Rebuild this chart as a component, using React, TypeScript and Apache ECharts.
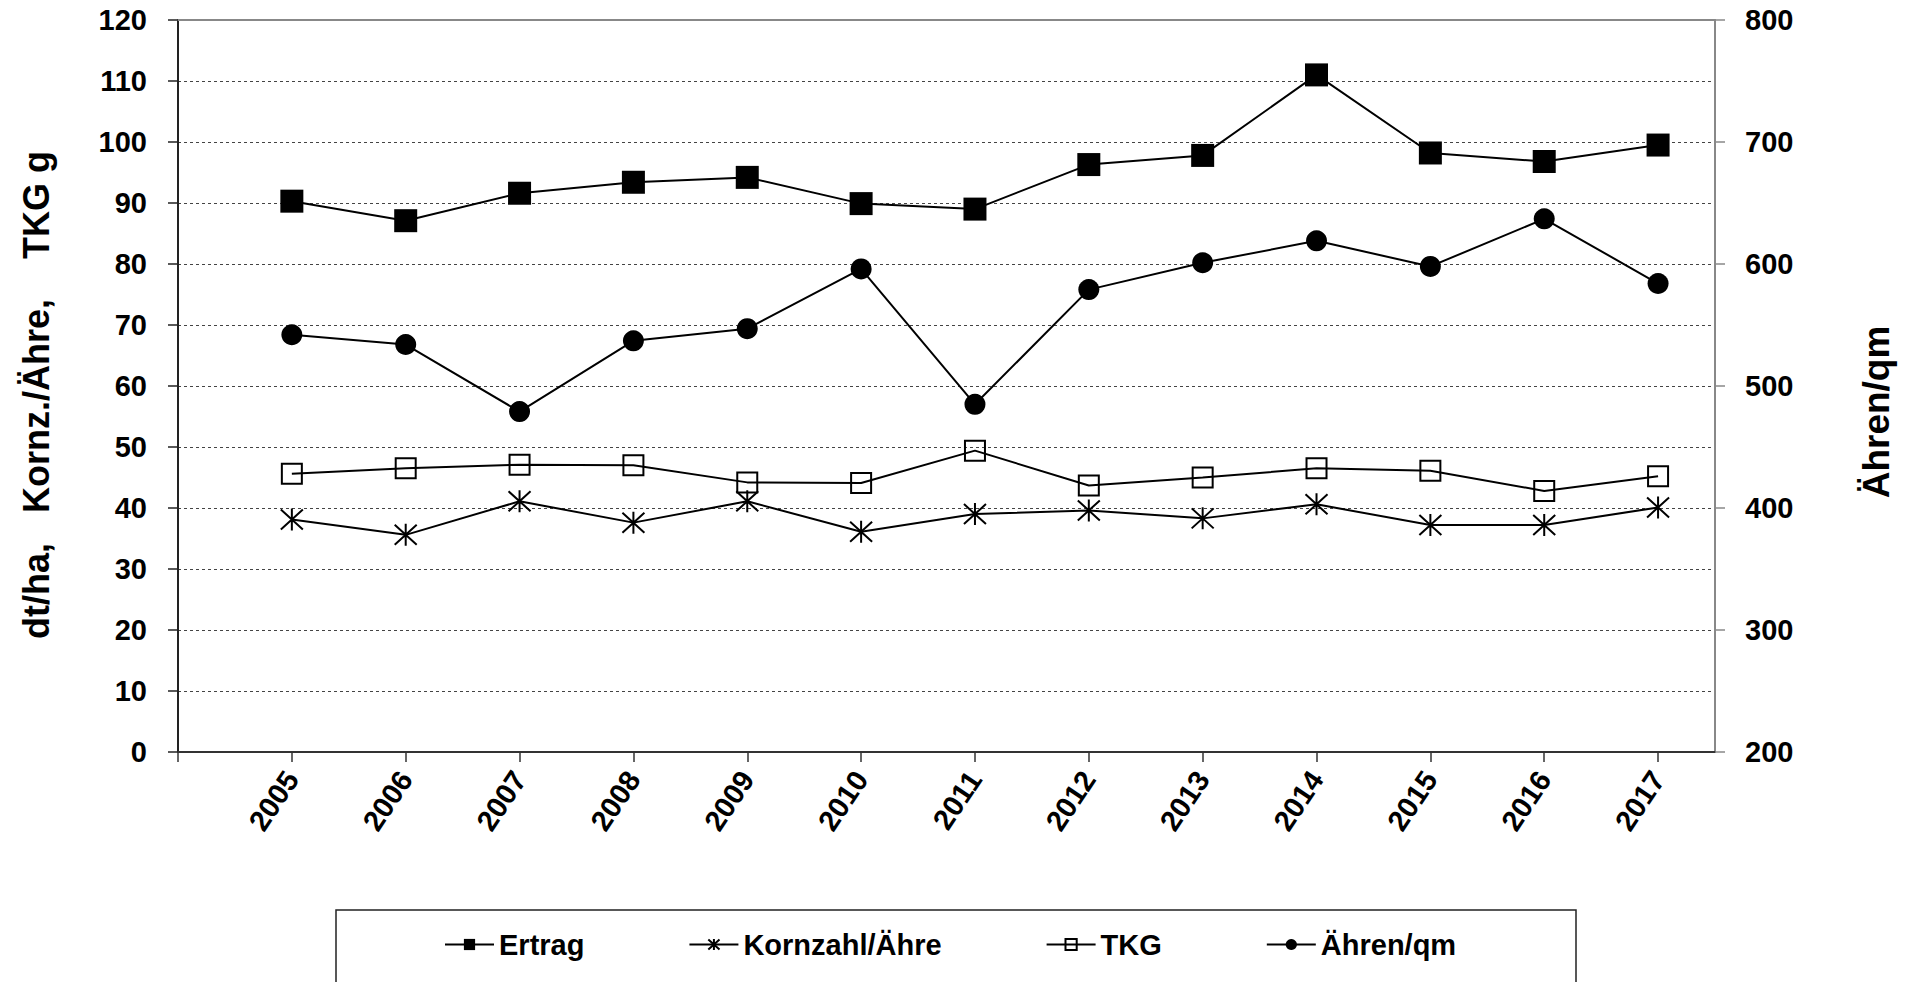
import React, { useEffect, useRef } from "react";
import * as echarts from "echarts";

const years = [2005, 2006, 2007, 2008, 2009, 2010, 2011, 2012, 2013, 2014, 2015, 2016, 2017];
const xTickValues = [2004, 2005, 2006, 2007, 2008, 2009, 2010, 2011, 2012, 2013, 2014, 2015, 2016, 2017];
const ertrag = [90.3, 87.1, 91.6, 93.4, 94.2, 89.9, 89.0, 96.3, 97.8, 111.0, 98.2, 96.8, 99.5];
const kornzahl = [38.1, 35.6, 41.1, 37.6, 41.1, 36.1, 39.0, 39.6, 38.3, 40.6, 37.2, 37.2, 40.1];
const tkg = [45.6, 46.5, 47.1, 47.0, 44.2, 44.1, 49.4, 43.7, 45.0, 46.5, 46.1, 42.8, 45.2];
const aehren = [542, 534, 479, 537, 547, 596, 485, 579, 601, 619, 598, 637, 584];

const seriesNames = ["Ertrag", "Kornzahl/Ähre", "TKG", "Ähren/qm"];
const leftTitle = "dt/ha,   Kornz./Ähre,    TKG g";
const rightTitle = "Ähren/qm";

const FONT = '"Liberation Sans", Arial, sans-serif';
const ASTERISK = "path://M0,0L20,20M0,20L20,0M10,-1L10,21";

const pairs = (vals: number[]) => years.map((y, i) => [y, vals[i]]);

export default function App() {
  const ref = useRef<HTMLDivElement>(null);
  useEffect(() => {
    if (!ref.current) return;
    const chart = echarts.init(ref.current, null, { renderer: "svg" });
    const lineStyle = { color: "#000", width: 2 };
    chart.setOption({
      animation: false,
      backgroundColor: "#fff",
      textStyle: { fontFamily: FONT },
      grid: { left: 178, top: 20, right: 199, bottom: 230, containLabel: false },
      xAxis: [
        {
          type: "value",
          min: 2004,
          max: 2017.5,
          interval: 1,
          axisLine: { show: true, lineStyle: { color: "#333", width: 2 } },
          axisTick: { show: true, customValues: xTickValues, length: 10, lineStyle: { color: "#333", width: 1.5 } },
          axisLabel: {
            customValues: years,
            rotate: 56,
            margin: 22,
            fontSize: 29,
            fontWeight: "bold",
            color: "#000",
            fontFamily: FONT,
            formatter: (v: number) => String(v),
          },
          splitLine: { show: false },
        },
        {
          type: "value",
          position: "top",
          min: 2004,
          max: 2017.5,
          axisLine: { show: true, lineStyle: { color: "#888", width: 2 } },
          axisTick: { show: false },
          axisLabel: { show: false },
          splitLine: { show: false },
        },
      ],
      yAxis: [
        {
          type: "value",
          min: 0,
          max: 120,
          interval: 10,
          axisLine: { show: true, lineStyle: { color: "#222", width: 2 } },
          axisTick: { show: true, length: 10, lineStyle: { color: "#222", width: 1.5 } },
          axisLabel: { margin: 31, fontSize: 29, fontWeight: "bold", color: "#000", fontFamily: FONT },
          splitLine: { show: true, lineStyle: { color: "#444", width: 1, type: [3, 3] } },
        },
        {
          type: "value",
          position: "right",
          min: 200,
          max: 800,
          interval: 100,
          axisLine: { show: true, lineStyle: { color: "#888", width: 2 } },
          axisTick: { show: true, length: 10, lineStyle: { color: "#888", width: 1.5 } },
          axisLabel: { margin: 30, fontSize: 29, fontWeight: "bold", color: "#000", fontFamily: FONT },
          splitLine: { show: false },
        },
      ],
      legend: {
        left: 439,
        top: 925,
        itemGap: 104,
        itemWidth: 49,
        itemHeight: 14,
        data: seriesNames,
        textStyle: { fontSize: 29, fontWeight: "bold", color: "#000", fontFamily: FONT },
      },
      graphic: [
        {
          type: "rect",
          shape: { x: 336, y: 910, width: 1240, height: 120 },
          style: { fill: "none", stroke: "#222", lineWidth: 1.5 },
          silent: true,
        },
        {
          type: "text",
          x: 36,
          y: 395,
          rotation: Math.PI / 2,
          style: {
            text: leftTitle,
            fontSize: 36,
            fontWeight: "bold",
            fontFamily: FONT,
            fill: "#000",
            align: "center",
            verticalAlign: "middle",
          },
        },
        {
          type: "text",
          x: 1876,
          y: 412,
          rotation: Math.PI / 2,
          style: {
            text: rightTitle,
            fontSize: 37,
            fontWeight: "bold",
            fontFamily: FONT,
            fill: "#000",
            align: "center",
            verticalAlign: "middle",
          },
        },
      ],
      series: [
        {
          name: seriesNames[0],
          type: "line",
          data: pairs(ertrag),
          symbol: "rect",
          symbolSize: 23,
          itemStyle: { color: "#000" },
          lineStyle,
          z: 4,
        },
        {
          name: seriesNames[1],
          type: "line",
          data: pairs(kornzahl),
          symbol: ASTERISK,
          symbolSize: 22,
          itemStyle: { color: "none", borderColor: "#000", borderWidth: 2 },
          lineStyle,
          z: 3,
        },
        {
          name: seriesNames[2],
          type: "line",
          data: pairs(tkg),
          symbol: "rect",
          symbolSize: 20,
          itemStyle: { color: "none", borderColor: "#000", borderWidth: 2 },
          lineStyle,
          z: 3,
        },
        {
          name: seriesNames[3],
          type: "line",
          yAxisIndex: 1,
          data: pairs(aehren),
          symbol: "circle",
          symbolSize: 21,
          itemStyle: { color: "#000" },
          lineStyle,
          z: 4,
        },
      ],
    });
    return () => chart.dispose();
  }, []);
  return (
    <div
      ref={ref}
      style={{ position: "fixed", left: 0, top: 0, width: "1914px", height: "982px" }}
    />
  );
}
